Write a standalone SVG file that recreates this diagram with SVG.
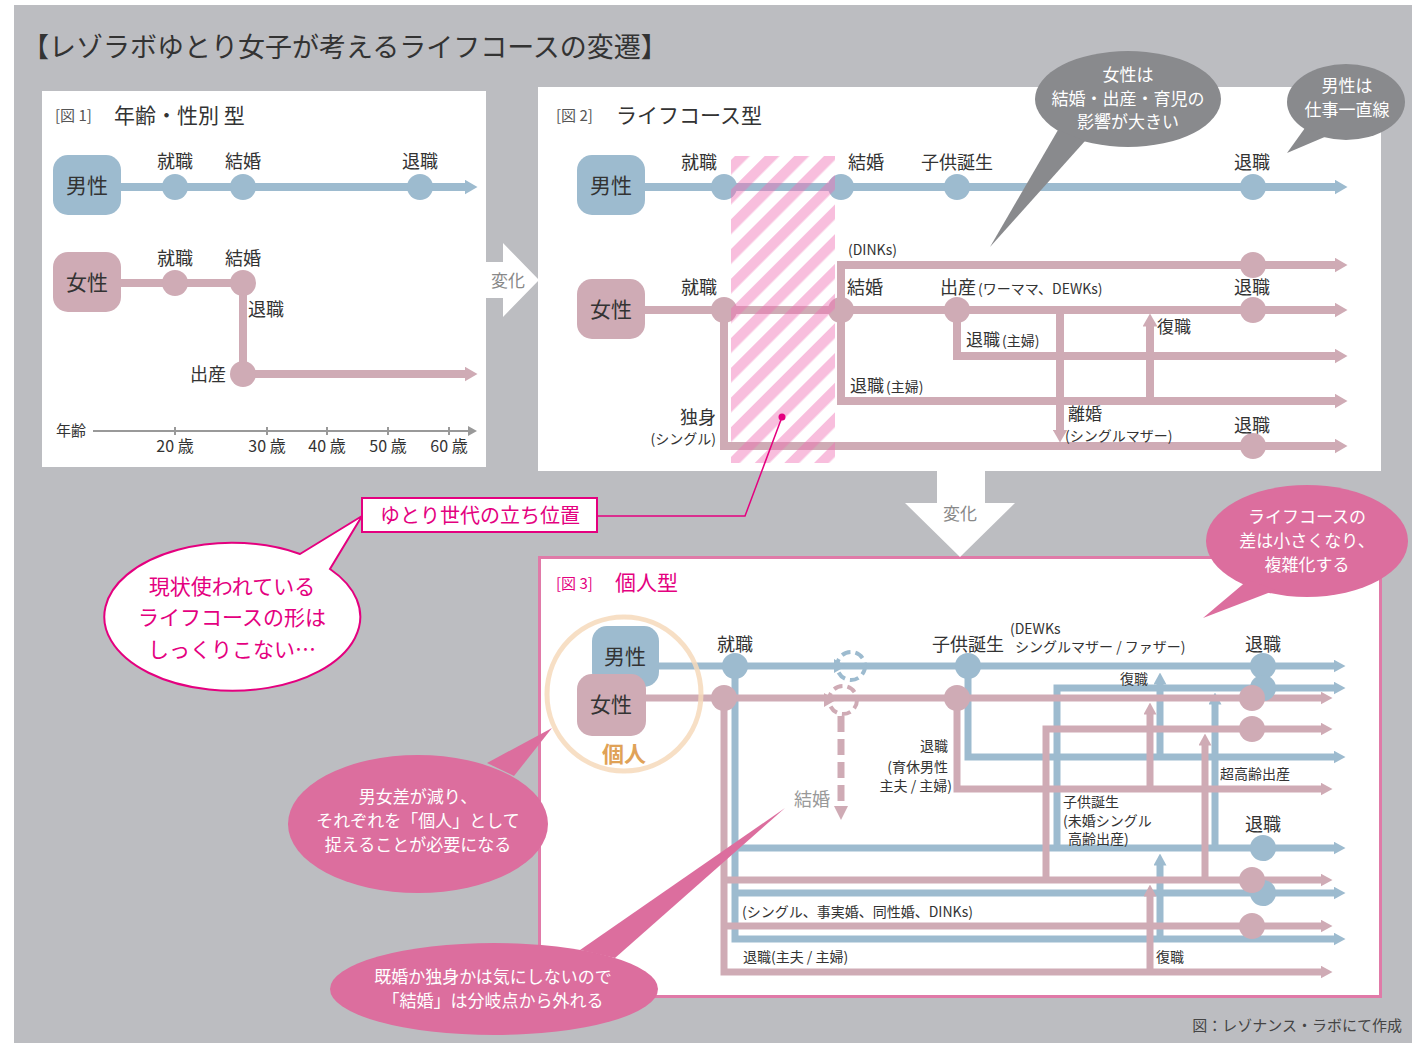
<svg xmlns="http://www.w3.org/2000/svg" width="1412" height="1043" viewBox="0 0 1412 1043">
<defs>
<style>
text{font-family:"Noto Sans CJK JP","Noto Sans",sans-serif;fill:#333}
.lb{stroke:#9dbbcf;fill:none}
.lp{stroke:#cfabb5;fill:none}
.w8{stroke-width:8}
.w7{stroke-width:7}
.cb{fill:#9dbbcf}
.cp{fill:#cfabb5}
.nt{font-size:21px;text-anchor:middle}
.l18{font-size:18px}
.l17{font-size:17px}
.l14{font-size:14px}
.mid{text-anchor:middle}
.end{text-anchor:end}
.wt{fill:#fff}
.pk{fill:#e4007f}
.gy{fill:#898a8d}
.pb{fill:#dc6e9e}
</style>
<marker id="ab" markerWidth="13" markerHeight="15" refX="0.5" refY="7.5" orient="auto" markerUnits="userSpaceOnUse"><path d="M0,0L13,7.5L0,15Z" fill="#9dbbcf"/></marker>
<marker id="ap" markerWidth="13" markerHeight="15" refX="0.5" refY="7.5" orient="auto" markerUnits="userSpaceOnUse"><path d="M0,0L13,7.5L0,15Z" fill="#cfabb5"/></marker>
<marker id="ab3" markerWidth="12" markerHeight="13" refX="0.5" refY="6.5" orient="auto" markerUnits="userSpaceOnUse"><path d="M0,0L12,6.5L0,13Z" fill="#9dbbcf"/></marker>
<marker id="ap3" markerWidth="12" markerHeight="13" refX="0.5" refY="6.5" orient="auto" markerUnits="userSpaceOnUse"><path d="M0,0L12,6.5L0,13Z" fill="#cfabb5"/></marker>
<pattern id="hatch" width="21" height="21" patternUnits="userSpaceOnUse" patternTransform="rotate(45)"><rect width="10.5" height="21" fill="#f06eb4" fill-opacity="0.45"/></pattern>
</defs>

<rect x="0" y="0" width="1412" height="1043" fill="#fff"/>
<rect x="14" y="5" width="1398" height="1038" fill="#bcbdc1"/>
<text x="22" y="57" font-size="27">【レゾラボゆとり女子が考えるライフコースの変遷】</text>

<!-- panels -->
<rect id="fig1-panel" x="42" y="91" width="444" height="376" fill="#fff"/>
<rect id="fig2-panel" x="538" y="87" width="843" height="384" fill="#fff"/>
<rect id="fig3-panel" x="539.5" y="557.5" width="841" height="439" fill="#fff" stroke="#e07aa8" stroke-width="3"/>

<!-- change arrows -->
<g id="change-arrow-1">
<polygon points="486,262 503,262 503,243 539,280 503,317 503,298 486,298" fill="#fff"/>
<text x="508" y="287" font-size="17" class="mid" style="fill:#888">変化</text>
</g>
<g id="change-arrow-2">
<polygon points="937,471 985,471 985,503 1015,503 960,557 905,503 937,503" fill="#fff"/>
<text x="960" y="520" font-size="17" class="mid" style="fill:#888">変化</text>
</g>

<!-- Figure 1 titles -->
<text x="55" y="121" font-size="15" style="fill:#555">[図 1]</text>
<text x="114" y="123" font-size="21">年齢・性別 型</text>

<!-- Figure 2 titles -->
<text x="556" y="121" font-size="15" style="fill:#555">[図 2]</text>
<text x="616" y="123" font-size="21">ライフコース型</text>

<!-- Figure 3 titles -->
<text x="556" y="589" font-size="15" class="pk">[図 3]</text>
<text x="615" y="590" font-size="21" class="pk">個人型</text>

<g id="connectors">
<!-- fig1 -->
<path class="lb w8" d="M121,187H465" marker-end="url(#ab)"/>
<path class="lp w8" d="M121,283H243V374H465" marker-end="url(#ap)"/>
<!-- fig1 axis -->
<path d="M93,431H468" stroke="#999" stroke-width="2"/>
<polygon points="468,426 477,431 468,436" fill="#999"/>
<path d="M175,427v8M267,427v8M327,427v8M388,427v8M449,427v8" stroke="#999" stroke-width="2"/>

<!-- fig2 -->
<path class="lb w8" d="M645,187H1335" marker-end="url(#ab)"/>
<path class="lp w8" d="M645,310H1335" marker-end="url(#ap)"/>
<path class="lp w8" d="M841,310V265H1335" marker-end="url(#ap)"/>
<path class="lp w8" d="M957,310V356H1335" marker-end="url(#ap)"/>
<path class="lp w8" d="M841,310V401H1335" marker-end="url(#ap)"/>
<path class="lp w8" d="M724,310V446H1335" marker-end="url(#ap)"/>
<path class="lp w8" d="M1060,310V430" marker-end="url(#ap)"/>
<path class="lp w8" d="M1150,401V326" marker-end="url(#ap)"/>

<!-- fig3 blue -->
<path class="lb w7" d="M659,666H1334" marker-end="url(#ab3)"/>
<path class="lb w7" d="M735,666V939H1334" marker-end="url(#ab3)"/>
<path class="lb w7" d="M735,848H1334" marker-end="url(#ab3)"/>
<path class="lb w7" d="M735,893H1334" marker-end="url(#ab3)"/>
<path class="lb w7" d="M1057,848V688H1334" marker-end="url(#ab3)"/>
<path class="lb w7" d="M968,666V757H1334" marker-end="url(#ab3)"/>
<path class="lb w7" d="M1160,757V684" marker-end="url(#ab3)"/>
<path class="lb w7" d="M1215,848V704" marker-end="url(#ab3)"/>
<path class="lb w7" d="M1160,939V865" marker-end="url(#ab3)"/>
<!-- fig3 pink -->
<path class="lp w7" d="M645,698H1321" marker-end="url(#ap3)"/>
<path class="lp w7" d="M724,698V972H1321" marker-end="url(#ap3)"/>
<path class="lp w7" d="M724,880H1321" marker-end="url(#ap3)"/>
<path class="lp w7" d="M724,926H1321" marker-end="url(#ap3)"/>
<path class="lp w7" d="M1046,880V729H1321" marker-end="url(#ap3)"/>
<path class="lp w7" d="M957,698V789H1321" marker-end="url(#ap3)"/>
<path class="lp w7" d="M1150,789V714" marker-end="url(#ap3)"/>
<path class="lp w7" d="M1205,880V745" marker-end="url(#ap3)"/>
<path class="lp w7" d="M1150,972V896" marker-end="url(#ap3)"/>
<!-- fig3 dashed marriage -->
<circle cx="851" cy="666" r="14" fill="none" stroke="#9dbbcf" stroke-width="4" stroke-dasharray="9 5"/>
<polygon points="834,659 846,666 834,673" fill="#9dbbcf"/>
<circle cx="843" cy="700" r="14" fill="none" stroke="#cfabb5" stroke-width="4" stroke-dasharray="9 5"/>
<polygon points="824,693 836,700 824,707" fill="#cfabb5"/>
<path d="M841,716V804" stroke="#cfabb5" stroke-width="7" stroke-dasharray="16 7"/>
<polygon points="834,806 848,806 841,820" fill="#cfabb5"/>
</g>

<!-- Figure 1 nodes -->
<g id="f1-man">
<rect x="53" y="155" width="68" height="60" rx="15" class="cb"/>
<text x="87" y="193" class="nt">男性</text>
</g>
<g id="f1-woman">
<rect x="53" y="252" width="68" height="60" rx="15" class="cp"/>
<text x="87" y="290" class="nt">女性</text>
</g>
<g id="f1-man-events">
<circle cx="175" cy="187" r="13" class="cb"/><circle cx="243" cy="187" r="13" class="cb"/><circle cx="420" cy="187" r="13" class="cb"/>
<text x="175" y="168" class="l18 mid">就職</text><text x="243" y="168" class="l18 mid">結婚</text><text x="420" y="168" class="l18 mid">退職</text>
</g>
<g id="f1-woman-events">
<circle cx="175" cy="283" r="13" class="cp"/><circle cx="243" cy="283" r="13" class="cp"/><circle cx="243" cy="374" r="13" class="cp"/>
<text x="175" y="265" class="l18 mid">就職</text><text x="243" y="265" class="l18 mid">結婚</text>
<text x="248" y="316" class="l18">退職</text>
<text x="226" y="381" class="l18 end">出産</text>
</g>
<g id="f1-axis-labels">
<text x="56" y="436" font-size="15">年齢</text>
<text x="175" y="452" font-size="16" class="mid">20 歳</text>
<text x="267" y="452" font-size="16" class="mid">30 歳</text>
<text x="327" y="452" font-size="16" class="mid">40 歳</text>
<text x="388" y="452" font-size="16" class="mid">50 歳</text>
<text x="449" y="452" font-size="16" class="mid">60 歳</text>
</g>

<!-- Figure 2 nodes -->
<g id="f2-man">
<rect x="577" y="155" width="68" height="60" rx="15" class="cb"/>
<text x="611" y="193" class="nt">男性</text>
</g>
<g id="f2-woman">
<rect x="577" y="279" width="68" height="60" rx="15" class="cp"/>
<text x="611" y="317" class="nt">女性</text>
</g>
<g id="f2-man-events">
<circle cx="724" cy="187" r="13" class="cb"/><circle cx="841" cy="187" r="13" class="cb"/><circle cx="957" cy="187" r="13" class="cb"/><circle cx="1253" cy="187" r="13" class="cb"/>
<text x="699" y="169" class="l18 mid">就職</text><text x="866" y="169" class="l18 mid">結婚</text><text x="957" y="169" class="l18 mid">子供誕生</text><text x="1252" y="169" class="l18 mid">退職</text>
</g>
<g id="f2-woman-events">
<circle cx="724" cy="310" r="13" class="cp"/><circle cx="841" cy="310" r="13" class="cp"/><circle cx="957" cy="310" r="13" class="cp"/><circle cx="1253" cy="310" r="13" class="cp"/><circle cx="1253" cy="265" r="13" class="cp"/><circle cx="1253" cy="446" r="13" class="cp"/>
<text x="699" y="294" class="l18 mid">就職</text>
<text x="848" y="255" class="l14">(DINKs)</text>
<text x="847" y="294" class="l18">結婚</text>
<text x="940" y="294" class="l18">出産<tspan class="l14" dx="2">(ワーママ、DEWKs)</tspan></text>
<text x="1252" y="294" class="l18 mid">退職</text>
<text x="966" y="346" class="l17">退職<tspan class="l14" dx="2">(主婦)</tspan></text>
<text x="850" y="392" class="l17">退職<tspan class="l14" dx="2">(主婦)</tspan></text>
<text x="1157" y="333" class="l17">復職</text>
<text x="716" y="424" class="l18 end">独身</text>
<text x="716" y="444" class="l14 end">(シングル)</text>
<text x="1068" y="420" class="l17">離婚</text>
<text x="1065" y="441" class="l14">(シングルマザー)</text>
<text x="1252" y="432" class="l18 mid">退職</text>
</g>
<rect id="yutori-band" x="731" y="156" width="104" height="307" fill="url(#hatch)"/>

<!-- Figure 3 nodes -->
<g id="f3-man">
<rect x="592" y="626" width="67" height="61" rx="15" class="cb"/>
<text x="625" y="664" class="nt">男性</text>
</g>
<g id="f3-woman">
<rect x="577" y="674" width="69" height="62" rx="15" class="cp"/>
<text x="611" y="712" class="nt">女性</text>
</g>
<g id="f3-individual">
<circle cx="624" cy="694" r="77" fill="none" stroke="#f6d9bb" stroke-width="5" stroke-opacity="0.85"/>
<text x="624" y="762" font-size="22" font-weight="bold" class="mid" style="fill:#e0a257">個人</text>
</g>
<g id="f3-events">
<circle cx="735" cy="666" r="13" class="cb"/><circle cx="724" cy="698" r="13" class="cp"/>
<circle cx="968" cy="666" r="13" class="cb"/><circle cx="957" cy="698" r="13" class="cp"/>
<circle cx="1263" cy="666" r="13" class="cb"/><circle cx="1263" cy="688" r="13" class="cb"/>
<circle cx="1252" cy="698" r="13" class="cp"/><circle cx="1252" cy="729" r="13" class="cp"/>
<circle cx="1263" cy="848" r="13" class="cb"/><circle cx="1263" cy="893" r="13" class="cb"/>
<circle cx="1252" cy="880" r="13" class="cp"/><circle cx="1252" cy="926" r="13" class="cp"/>
<text x="735" y="651" class="l18 mid">就職</text>
<text x="968" y="651" class="l18 mid">子供誕生</text>
<text x="1263" y="651" class="l18 mid">退職</text>
<text x="1010" y="634" class="l14">(DEWKs</text>
<text x="1015" y="652" class="l14">シングルマザー / ファザー)</text>
<text x="1120" y="684" class="l14">復職</text>
<text x="948" y="751" class="l14 end">退職</text>
<text x="948" y="772" class="l14 end">(育休男性</text>
<text x="952" y="791" class="l14 end">主夫 / 主婦)</text>
<text x="1220" y="779" class="l14">超高齢出産</text>
<text x="1063" y="807" class="l14">子供誕生</text>
<text x="1063" y="826" class="l14">(未婚シングル</text>
<text x="1068" y="844" class="l14">高齢出産)</text>
<text x="1263" y="831" class="l18 mid">退職</text>
<text x="742" y="917" class="l14">(シングル、事実婚、同性婚、DINKs)</text>
<text x="743" y="962" class="l14">退職(主夫 / 主婦)</text>
<text x="1156" y="962" class="l14">復職</text>
<text x="794" y="806" class="l18" style="fill:#999">結婚</text>
</g>

<!-- callouts -->
<g id="bubble-women">
<ellipse cx="1128" cy="99" rx="93" ry="48" class="gy"/>
<polygon points="1058,130 1085,141 990,247" class="gy"/>
<text x="1128" y="81" class="l17 mid wt">女性は</text>
<text x="1128" y="105" class="l17 mid wt">結婚・出産・育児の</text>
<text x="1128" y="128" class="l17 mid wt">影響が大きい</text>
</g>
<g id="bubble-men">
<ellipse cx="1346" cy="102" rx="59" ry="38" class="gy"/>
<polygon points="1305,128 1327,136 1287,153" class="gy"/>
<text x="1347" y="92" class="l17 mid wt">男性は</text>
<text x="1347" y="116" class="l17 mid wt">仕事一直線</text>
</g>
<g id="bubble-complex">
<ellipse cx="1307" cy="541" rx="101" ry="56" class="pb"/>
<polygon points="1248,580 1276,590 1203,618" class="pb"/>
<text x="1307" y="523" class="l17 mid wt">ライフコースの</text>
<text x="1307" y="547" class="l17 mid wt">差は小さくなり、</text>
<text x="1307" y="571" class="l17 mid wt">複雑化する</text>
</g>
<g id="bubble-individual">
<ellipse cx="418" cy="824" rx="130" ry="69" class="pb"/>
<polygon points="487,763 514,776 552,728" class="pb"/>
<text x="418" y="803" class="l17 mid wt">男女差が減り、</text>
<text x="418" y="827" class="l17 mid wt">それぞれを「個人」として</text>
<text x="418" y="851" class="l17 mid wt">捉えることが必要になる</text>
</g>
<g id="bubble-marriage">
<ellipse cx="494" cy="989" rx="164" ry="46" class="pb"/>
<polygon points="580,950 615,958 785,808" class="pb"/>
<text x="493" y="983" class="l17 mid wt">既婚か独身かは気にしないので</text>
<text x="493" y="1007" class="l17 mid wt">「結婚」は分岐点から外れる</text>
</g>
<g id="yutori-label">
<polyline points="597,516 745,516 782,417" fill="none" stroke="#e4007f" stroke-width="1.5"/>
<circle cx="782" cy="417" r="3.5" fill="#e4007f"/>
<rect x="362" y="498" width="235" height="34" fill="#fff" stroke="#e4007f" stroke-width="2"/>
<text x="480" y="523" font-size="20" class="mid pk">ゆとり世代の立ち位置</text>
</g>
<g id="bubble-current">
<path d="M300,554L362,516L330,569A128,74 0 1 1 300,554Z" fill="#fff" stroke="#e4007f" stroke-width="2"/>
<text x="232" y="594" font-size="21" class="mid pk">現状使われている</text>
<text x="232" y="625" font-size="21" class="mid pk">ライフコースの形は</text>
<text x="232" y="657" font-size="21" class="mid pk">しっくりこない…</text>
</g>

<text x="1402" y="1031" font-size="15" class="end" style="fill:#444">図：レゾナンス・ラボにて作成</text>
</svg>
